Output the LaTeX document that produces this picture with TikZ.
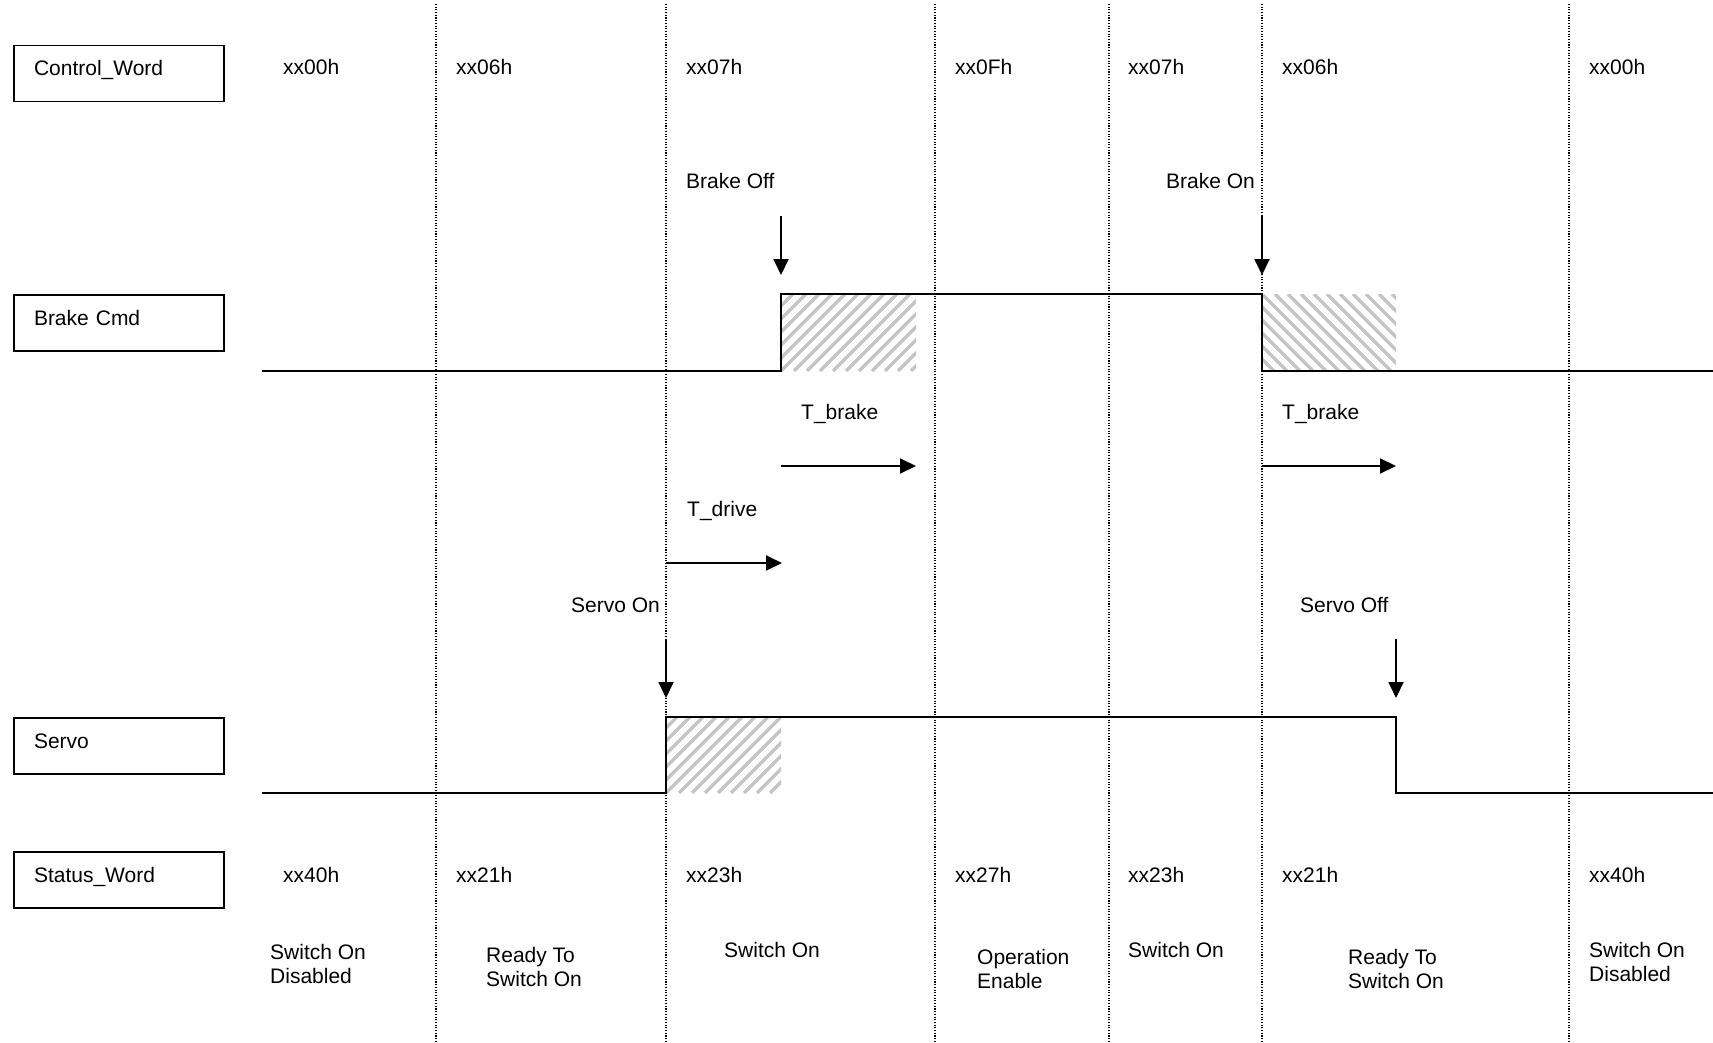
\documentclass[tikz,border=0pt]{standalone}
\usepackage{fontspec}
\setmainfont{Liberation Sans}
\usetikzlibrary{arrows.meta,calc}
\begin{document}
\begin{tikzpicture}[x=1pt,y=-1pt,
  txt/.style={font=\fontsize{21}{24.5}\selectfont,inner sep=0pt,anchor=base west},
  mtxt/.style={font=\fontsize{21}{24.5}\selectfont,inner sep=0pt,anchor=north west,align=left},
  sigbox/.style={draw,line width=1.6pt,font=\fontsize{21}{24.5}\selectfont,
    text width=170pt,inner xsep=20pt,inner ysep=0pt,align=left,
    minimum height=56pt,text height=15pt,text depth=10pt},
  grid/.style={line width=1.1pt,dash pattern=on 1.1pt off 1.6pt},
  wave/.style={line width=2pt,line join=miter},
  hatch/.style={line width=3.4pt,black!23},
  arr/.style={line width=1.9pt,-{Triangle[length=16pt,width=15pt]}}]
\useasboundingbox (0,0) rectangle (1713,1043);
\fill[white] (0,0) rectangle (1713,1043);

% vertical dotted grid lines
\foreach \gx in {436,666,935,1109,1262,1569}
  \draw[grid] (\gx,4) -- (\gx,1043);

% signal boxes
\node[sigbox] (cw) at (119,73.5) {Control\_Word};
\node[sigbox] (bc) at (119,323) {Brake Cmd};
\node[sigbox] (sv) at (119,746) {Servo};
\node[sigbox] (sw) at (119,880) {Status\_Word};

% control word values
\node[txt] (c1) at (283,75) {xx00h};
\node[txt] (c2) at (456,75) {xx06h};
\node[txt] (c3) at (686,75) {xx07h};
\node[txt] (c4) at (955,75) {xx0Fh};
\node[txt] (c5) at (1128,75) {xx07h};
\node[txt] (c6) at (1282,75) {xx06h};
\node[txt] (c7) at (1589,75) {xx00h};

% status word values
\node[txt] (s1) at (283,882) {xx40h};
\node[txt] (s2) at (456,882) {xx21h};
\node[txt] (s3) at (686,882) {xx23h};
\node[txt] (s4) at (955,882) {xx27h};
\node[txt] (s5) at (1128,882) {xx23h};
\node[txt] (s6) at (1282,882) {xx21h};
\node[txt] (s7) at (1589,882) {xx40h};

% state names
\node[mtxt] (n1) at (270,944) {Switch On\\Disabled};
\node[mtxt] (n2) at (486,947) {Ready To\\Switch On};
\node[mtxt] (n3) at (724,942) {Switch On};
\node[mtxt] (n4) at (977,949) {Operation\\Enable};
\node[mtxt] (n5) at (1128,942) {Switch On};
\node[mtxt] (n6) at (1348,949) {Ready To\\Switch On};
\node[mtxt] (n7) at (1589,942) {Switch On\\Disabled};

% hatched regions
\begin{scope}
  \clip (781,294) rectangle (916,371);
  \foreach \t in {-91,-78,...,150} \draw[hatch] (781+\t,371) -- ++(77,-77);
\end{scope}
\begin{scope}
  \clip (1262,294) rectangle (1396,371);
  \foreach \t in {-91,-78,...,150} \draw[hatch] (1262+\t,294) -- ++(77,77);
\end{scope}
\begin{scope}
  \clip (666,717) rectangle (781,793);
  \foreach \t in {-91,-78,...,150} \draw[hatch] (666+\t,793) -- ++(76,-76);
\end{scope}

% waveforms
\coordinate (b0) at (262,371);
\coordinate (b1) at (781,294);
\coordinate (b2) at (1262,371);
\coordinate (b3) at (1713,371);
\draw[wave] (b0) -| (b1) -| (b2) -- (b3);
\coordinate (v0) at (262,793);
\coordinate (v1) at (666,717);
\coordinate (v2) at (1396,793);
\coordinate (v3) at (1713,793);
\draw[wave] (v0) -| (v1) -| (v2) -- (v3);

% event labels
\node[txt] (boff) at (686,189) {Brake Off};
\node[txt,anchor=base east] (bon) at (1255,189) {Brake On};
\node[txt] (tb1) at (801,419) {T\_brake};
\node[txt] (tb2) at (1282,419) {T\_brake};
\node[txt] (td) at (687,516) {T\_drive};
\node[txt,anchor=base east] (son) at (660,612) {Servo On};
\node[txt] (soff) at (1300,612) {Servo Off};

% arrows
\coordinate (a1s) at (781,216); \coordinate (a1e) at (781,275);
\coordinate (a2s) at (1262,216); \coordinate (a2e) at (1262,275);
\coordinate (a3s) at (781,466); \coordinate (a3e) at (916,466);
\coordinate (a4s) at (1262,466); \coordinate (a4e) at (1396,466);
\coordinate (a5s) at (666,563); \coordinate (a5e) at (782,563);
\coordinate (a6s) at (666,639); \coordinate (a6e) at (666,698);
\coordinate (a7s) at (1396,639); \coordinate (a7e) at (1396,698);
\draw[arr] (a1s) -- (a1e);
\draw[arr] (a2s) -- (a2e);
\draw[arr] (a3s) -- (a3e);
\draw[arr] (a4s) -- (a4e);
\draw[arr] (a5s) -- (a5e);
\draw[arr] (a6s) -- (a6e);
\draw[arr] (a7s) -- (a7e);
\end{tikzpicture}
\end{document}
